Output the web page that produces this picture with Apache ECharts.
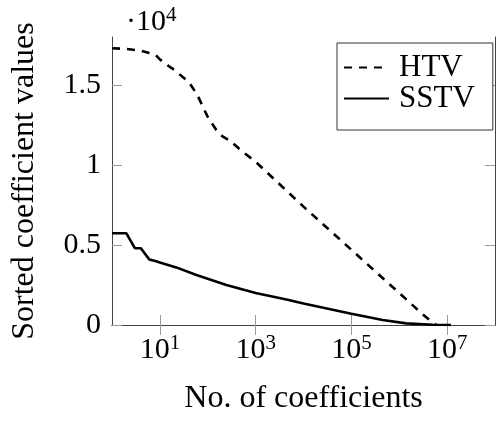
<!DOCTYPE html>
<html>
<head>
<meta charset="utf-8">
<script src="https://cdn.jsdelivr.net/npm/echarts@6/dist/echarts.min.js"></script>
<style>html,body{margin:0;padding:0;background:#fff}#c{width:497px;height:423px}</style>
</head>
<body>
<div id="c"></div>
<script>
// Data (values in raw units; axis shows ×10^4)
const htvX = [1, 2, 4, 6, 8, 10, 15, 20, 30, 40, 60, 100, 150, 200, 300, 500, 1000, 1e4, 1e5, 1e6, 3e6, 5e6, 6e6];
const htvY = [17300, 17250, 17150, 17000, 16900, 16600, 16200, 15950, 15500, 15200, 14400, 13000, 12200, 11800, 11500, 10900, 10200, 7400, 4700, 2000, 700, 150, 0];
const sstvX = [1, 2, 3, 4, 6, 8, 10, 22, 58, 245, 1000, 4400, 1e4, 1e5, 4.5e5, 1.4e6, 5e6, 1.2e7];
const sstvY = [5730, 5730, 4800, 4800, 4100, 4000, 3900, 3600, 3125, 2500, 2000, 1600, 1350, 700, 310, 100, 20, 0];
const xTickValues = [10, 1e3, 1e5, 1e7];
const yTickValues = [0, 5000, 10000, 15000];
const seriesNames = ['HTV', 'SSTV'];

const FONT = 'Liberation Serif';
const zip = (xs, ys) => xs.map((x, i) => [x, ys[i]]);

const chart = echarts.init(document.getElementById('c'), null, {renderer: 'canvas'});
const frame = {show: true, lineStyle: {color: '#444', width: 1}};
const tickStyle = {color: '#999', width: 1};
const supRich = {
  b: {fontFamily: FONT, fontSize: 30, color: '#000', lineHeight: 34},
  s: {fontFamily: FONT, fontSize: 21, color: '#000', verticalAlign: 'top', lineHeight: 22}
};
const xBase = {
  type: 'log', logBase: 10, min: 1, max: 1e8,
  axisLine: frame,
  splitLine: {show: false},
  minorTick: {show: false},
  minorSplitLine: {show: false}
};
const yBase = {
  type: 'value', min: 0, max: 18000, interval: 5000,
  axisLine: frame,
  splitLine: {show: false}
};
chart.setOption({
  animation: false,
  title: {
    text: '{d|·}{b|10}{s|4}',
    left: 121, top: 0,
    textStyle: {fontWeight: 'normal', rich: {
      d: {fontFamily: FONT, fontSize: 30, fontWeight: 'normal', color: '#000', lineHeight: 34},
      b: {fontFamily: FONT, fontSize: 30, fontWeight: 'normal', color: '#000', lineHeight: 34},
      s: {fontFamily: FONT, fontSize: 21, fontWeight: 'normal', color: '#000', verticalAlign: 'top', lineHeight: 22}
    }}
  },
  grid: {left: 112, right: 2, top: 37, bottom: 98, containLabel: false},
  legend: {
    orient: 'vertical',
    left: 337, top: 43,
    data: seriesNames,
    itemWidth: 45, itemHeight: 30, itemGap: 0,
    padding: [9, 18, 16, 6],
    borderColor: '#333', borderWidth: 1, borderRadius: 0,
    backgroundColor: '#fff',
    itemStyle: {opacity: 0},
    textStyle: {fontFamily: FONT, fontSize: 31, color: '#000', padding: [0, 0, 0, 5]}
  },
  xAxis: [
    Object.assign({}, xBase, {
      position: 'bottom',
      name: 'No. of coefficients', nameLocation: 'middle', nameGap: 58,
      nameTextStyle: {fontFamily: FONT, fontSize: 32, color: '#000'},
      axisTick: {show: true, inside: true, length: 10, lineStyle: tickStyle, customValues: xTickValues},
      axisLabel: {
        margin: 8,
        customValues: xTickValues,
        formatter: v => '{b|10}{s|' + Math.round(Math.log10(v)) + '}',
        rich: supRich
      }
    }),
    Object.assign({}, xBase, {
      position: 'top',
      axisTick: {show: true, inside: true, length: 10, lineStyle: tickStyle, customValues: xTickValues},
      axisLabel: {show: false}
    })
  ],
  yAxis: [
    Object.assign({}, yBase, {
      position: 'left',
      name: 'Sorted coefficient values', nameLocation: 'middle', nameGap: 71,
      nameTextStyle: {fontFamily: FONT, fontSize: 32, color: '#000'},
      axisTick: {show: true, inside: true, length: 10, lineStyle: tickStyle, customValues: yTickValues},
      axisLabel: {
        margin: 11,
        customValues: yTickValues,
        fontFamily: FONT, fontSize: 30, color: '#000',
        formatter: v => String(v / 10000)
      }
    }),
    Object.assign({}, yBase, {
      position: 'right',
      axisTick: {show: true, inside: true, length: 10, lineStyle: tickStyle, customValues: yTickValues},
      axisLabel: {show: false}
    })
  ],
  series: [
    {
      name: seriesNames[0], type: 'line', xAxisIndex: 0, yAxisIndex: 0,
      data: zip(htvX, htvY), symbol: 'none', showSymbol: false,
      lineStyle: {color: '#000', width: 2.6, type: [8, 7]},
      itemStyle: {color: '#000'}
    },
    {
      name: seriesNames[1], type: 'line', xAxisIndex: 0, yAxisIndex: 0,
      data: zip(sstvX, sstvY), symbol: 'none', showSymbol: false,
      lineStyle: {color: '#000', width: 2.6, type: 'solid'},
      itemStyle: {color: '#000'}
    }
  ]
});
</script>
</body>
</html>
